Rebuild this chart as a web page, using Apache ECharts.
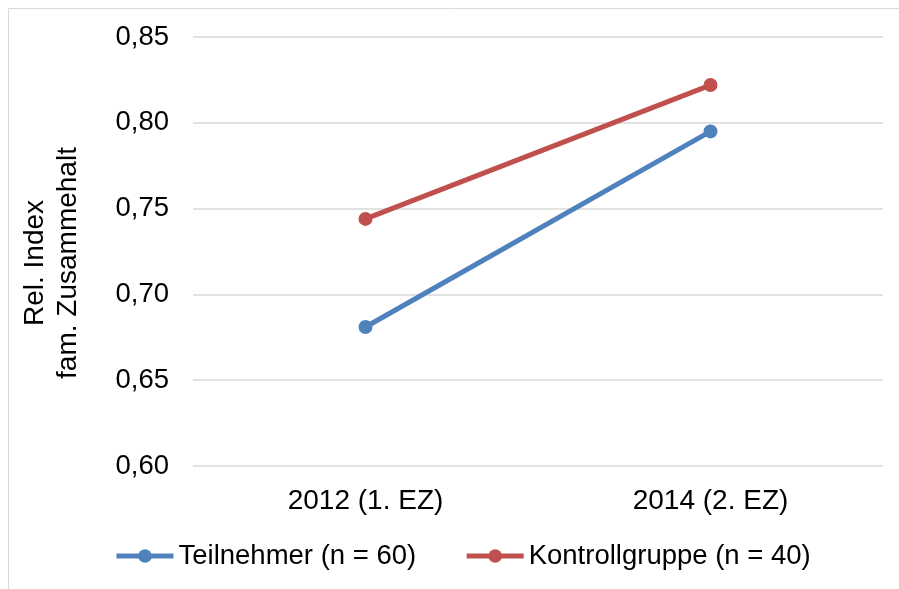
<!DOCTYPE html>
<html>
<head>
<meta charset="utf-8">
<script src="https://cdn.jsdelivr.net/npm/echarts@6/dist/echarts.min.js"></script>
<style>
	html, body { margin: 0; padding: 0; background: #fff; }
	#chart { width: 899px; height: 589px; }
</style>
</head>
<body>
<div id="chart"></div>
<script>
// data
var categories = ["2012 (1. EZ)", "2014 (2. EZ)"];
var teilnehmer = [0.681, 0.795];
var kontrollgruppe = [0.744, 0.822];
var seriesNames = ["Teilnehmer (n = 60)", "Kontrollgruppe (n = 40)"];
var yTitle = "Rel. Index\nfam. Zusammehalt";
var yTicks = [0.6, 0.85, 0.05]; // min, max, step

var font = "'Liberation Sans', Arial, sans-serif";

var chart = echarts.init(document.getElementById("chart"));

var option = {
	animation: false,
	backgroundColor: "#fff",
	textStyle: { fontFamily: font, color: "#000" },
	graphic: [
		{
			// outer chart frame (only top/left visible in the picture)
			type: "rect",
			shape: { x: 8.5, y: 8.5, width: 1000, height: 1000 },
			style: { fill: "none", stroke: "#d9d9d9", lineWidth: 1 },
			silent: true,
		},
		{
			// y axis title
			type: "text",
			x: 52,
			y: 263,
			rotation: Math.PI / 2,
			style: {
				text: yTitle,
				fill: "#000",
				font: "28px " + font,
				lineHeight: 33,
				align: "center",
				verticalAlign: "middle",
			},
			silent: true,
		},
	],
	grid: {
		left: 193,
		right: 16,
		top: 37,
		bottom: 123,
	},
	legend: {
		data: seriesNames,
		left: 109,
		top: 537,
		itemWidth: 57,
		itemHeight: 17,
		itemGap: 48,
		lineStyle: { width: 5 },
		textStyle: { fontFamily: font, fontSize: 27.5, color: "#000" },
	},
	xAxis: {
		type: "category",
		data: categories,
		boundaryGap: true,
		axisLine: { show: false },
		axisTick: { show: false },
		axisLabel: { fontFamily: font, fontSize: 28, color: "#000", margin: 21 },
	},
	yAxis: {
		type: "value",
		min: yTicks[0],
		max: yTicks[1],
		interval: yTicks[2],
		axisLine: { show: false },
		axisTick: { show: false },
		axisLabel: {
			fontFamily: font,
			fontSize: 27.5,
			color: "#000",
			margin: 24,
			formatter: function (v) {
				return v.toFixed(2).replace(".", ",");
			},
		},
		splitLine: { lineStyle: { color: "#d9d9d9", width: 1.5 } },
	},
	series: [
		{
			name: seriesNames[0],
			type: "line",
			data: teilnehmer,
			color: "#4F81BD",
			symbol: "circle",
			symbolSize: 14,
			lineStyle: { width: 5 },
		},
		{
			name: seriesNames[1],
			type: "line",
			data: kontrollgruppe,
			color: "#C0504D",
			symbol: "circle",
			symbolSize: 14,
			lineStyle: { width: 5 },
		},
	],
};

chart.setOption(option);
</script>
</body>
</html>
